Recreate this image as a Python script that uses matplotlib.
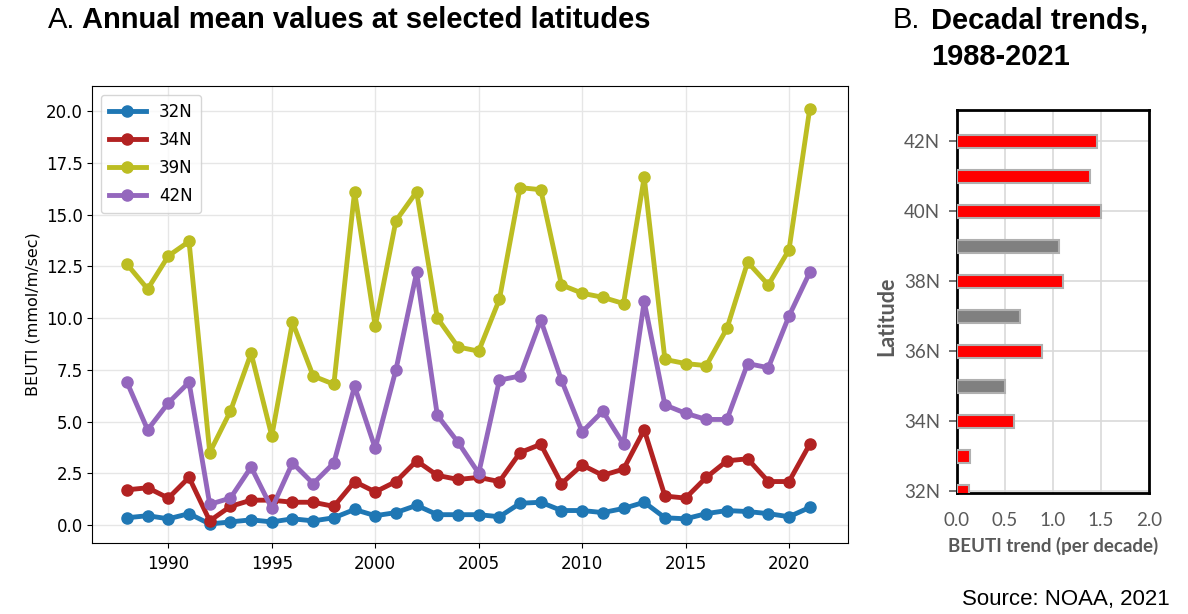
import matplotlib.pyplot as plt
import numpy as np

# annual mean BEUTI at selected latitudes
years = list(range(1988, 2022))
beuti_32n = [0.35, 0.45, 0.3, 0.55, 0.05, 0.15, 0.25, 0.15, 0.3, 0.2, 0.35, 0.75,
             0.45, 0.6, 0.95, 0.5, 0.5, 0.5, 0.4, 1.05, 1.1, 0.7, 0.7, 0.6,
             0.8, 1.1, 0.35, 0.3, 0.55, 0.7, 0.65, 0.55, 0.4, 0.85]
beuti_34n = [1.7, 1.8, 1.3, 2.3, 0.2, 0.9, 1.2, 1.2, 1.1, 1.1, 0.9, 2.1,
             1.6, 2.1, 3.1, 2.4, 2.2, 2.3, 2.1, 3.5, 3.9, 2.0, 2.9, 2.4,
             2.7, 4.6, 1.4, 1.3, 2.3, 3.1, 3.2, 2.1, 2.1, 3.9]
beuti_39n = [12.6, 11.4, 13.0, 13.7, 3.5, 5.5, 8.3, 4.3, 9.8, 7.2, 6.8, 16.1,
             9.6, 14.7, 16.1, 10.0, 8.6, 8.4, 10.9, 16.3, 16.2, 11.6, 11.2, 11.0,
             10.7, 16.8, 8.0, 7.8, 7.7, 9.5, 12.7, 11.6, 13.3, 20.1]
beuti_42n = [6.9, 4.6, 5.9, 6.9, 1.0, 1.3, 2.8, 0.8, 3.0, 2.0, 3.0, 6.7,
             3.7, 7.5, 12.2, 5.3, 4.0, 2.5, 7.0, 7.2, 9.9, 7.0, 4.5, 5.5,
             3.9, 10.8, 5.8, 5.4, 5.1, 5.1, 7.8, 7.6, 10.1, 12.2]

# decadal trends by latitude
lats = [32, 33, 34, 35, 36, 37, 38, 39, 40, 41, 42]
trends = [0.12, 0.135, 0.59, 0.50, 0.89, 0.656, 1.10, 1.066, 1.50, 1.38, 1.455]
significant = [True, True, True, False, True, False, True, False, True, True, True]
lat_ticks = [32, 34, 36, 38, 40, 42]
lat_labels = ['32N', '34N', '36N', '38N', '40N', '42N']

fig = plt.figure(figsize=(11.88, 6.14), dpi=100)

# ---- panel A ----
ax = fig.add_axes([0.0778, 0.1156, 0.636, 0.744])
series = [(beuti_32n, '32N', '#1f77b4'), (beuti_34n, '34N', '#b22222'),
          (beuti_39n, '39N', '#bcbd22'), (beuti_42n, '42N', '#9467bd')]
for vals, name, col in series:
    ax.plot(years, vals, '-o', color=col, lw=3.5, ms=8, label=name)
ax.set_xlim(1986.33, 2022.85)
ax.set_ylim(-0.87, 21.2)
ax.set_yticks(np.arange(0, 20.1, 2.5))
ax.grid(True, color='#e6e6e6', lw=1)
ax.set_axisbelow(True)
ax.tick_params(labelsize=12)
ax.tick_params(axis='x', pad=5)
ax.set_ylabel('BEUTI (mmol/m/sec)', fontsize=11.5)
ax.legend(loc='upper left', fontsize=12, handlelength=2.2, borderpad=0.5,
          labelspacing=0.6)

fig.text(0.04, 0.967, 'A.', fontsize=21, family='Liberation Sans', va='center')
fig.text(0.069, 0.967, 'Annual mean values at selected latitudes', fontsize=21,
         family='Liberation Sans', weight='bold', va='center')

# ---- panel B ----
bx = fig.add_axes([0.8056, 0.197, 0.1616, 0.624])
bar_cols = ['#ff0000' if s else '#808080' for s in significant]
bx.barh(lats, trends, height=0.36, color=bar_cols, edgecolor='#b0b0b0', lw=1.5, zorder=3)
bx.set_xlim(0, 2.0)
bx.set_ylim(31.95, 42.9)
bx.set_xticks([0.0, 0.5, 1.0, 1.5, 2.0])
bx.set_xticklabels(['0.0', '0.5', '1.0', '1.5', '2.0'])
bx.set_yticks(lat_ticks)
bx.set_yticklabels(lat_labels)
bx.grid(True, color='#d9d9d9', lw=1.2, zorder=0)
bx.tick_params(axis='x', length=0, pad=14, labelsize=13.5, labelcolor='#595959')
bx.tick_params(axis='y', length=6, width=1.2, color='#595959', pad=6,
               labelsize=13.5, labelcolor='#595959')
for lab in bx.get_xticklabels() + bx.get_yticklabels():
    lab.set_family('Lato')
for sp in bx.spines.values():
    sp.set_linewidth(2)
    sp.set_color('black')
bx.set_xlabel('BEUTI trend (per decade)', fontsize=13.5, weight='bold', color='#595959',
              family='Lato', labelpad=5)
bx.set_ylabel('Latitude', fontsize=15.5, weight='bold', color='#595959', family='Lato')
bx.yaxis.set_label_coords(-0.31, 0.46)

fig.text(0.7517, 0.967, 'B.', fontsize=21, family='Liberation Sans', va='center')
fig.text(0.7835, 0.967, 'Decadal trends,', fontsize=21, family='Liberation Sans',
         weight='bold', va='center')
fig.text(0.7835, 0.907, '1988-2021', fontsize=21, family='Liberation Sans',
         weight='bold', va='center')

fig.text(0.985, 0.023, 'Source: NOAA, 2021', fontsize=16, family='Liberation Sans',
         ha='right', va='center')

fig.savefig('out.png', dpi=100)
